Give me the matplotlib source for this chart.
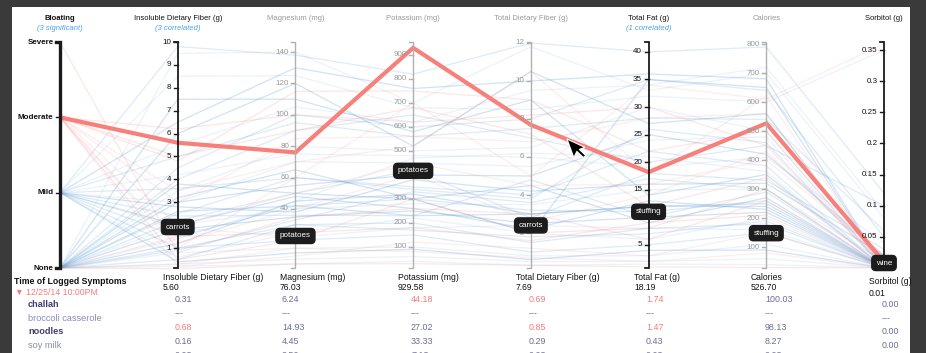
import numpy as np
import matplotlib
matplotlib.use("Agg")
import matplotlib.pyplot as plt
from matplotlib.patches import Rectangle, Polygon

plt.rcParams['font.family'] = ['Liberation Sans', 'DejaVu Sans']

W, H = 926, 353

# ---- data ----
dims = ["Bloating", "Insoluble Dietary Fiber (g)", "Magnesium (mg)", "Potassium (mg)",
        "Total Dietary Fiber (g)", "Total Fat (g)", "Calories", "Sorbitol (g)"]
notes = ["(3 significant)", "(3 correlated)", "", "", "", "(1 correlated)", "", ""]
bloat_levels = ["None", "Mild", "Moderate", "Severe"]
lo = [0, 0.13, 2.4, 12, 0.16, 0.8, 28, 0.0]
hi = [3, 10.0, 146.4, 954, 12.05, 41.8, 807, 0.363]
ticks = [
    [0, 1, 2, 3],
    [1, 2, 3, 4, 5, 6, 7, 8, 9, 10],
    [20, 40, 60, 80, 100, 120, 140],
    [100, 200, 300, 400, 500, 600, 700, 800, 900],
    [2, 4, 6, 8, 10, 12],
    [5, 10, 15, 20, 25, 30, 35, 40],
    [100, 200, 300, 400, 500, 600, 700, 800],
    [0, 0.05, 0.1, 0.15, 0.2, 0.25, 0.3, 0.35],
]
tick_fmt = [None, "{:g}", "{:g}", "{:g}", "{:g}", "{:g}", "{:g}", "{:g}"]
dark_axis = [True, True, False, False, False, True, False, True]

# background foods: bloating, insoluble, Mg, K, fiber, fat, calories, sorbitol
blue_lines = [
    [0, 0.3, 8, 60, 0.5, 2, 60, 0.0],
    [0, 0.5, 30, 200, 1.5, 8, 180, 0.0],
    [0, 1.2, 45, 320, 3.0, 12, 250, 0.0],
    [0, 2.0, 40, 280, 3.5, 15, 300, 0.01],
    [0, 2.5, 60, 350, 4.0, 22, 380, 0.0],
    [0, 3.0, 55, 400, 5.0, 25, 420, 0.02],
    [0, 3.5, 80, 500, 6.5, 30, 500, 0.0],
    [0, 4.5, 100, 600, 8.0, 35, 640, 0.05],
    [0, 6.0, 120, 520, 10.5, 27, 560, 0.0],
    [0, 9.5, 140, 700, 11.8, 33, 700, 0.08],
    [0, 1.0, 20, 150, 1.0, 5, 150, 0.0],
    [0, 1.8, 35, 250, 2.5, 10, 220, 0.0],
    [0, 0.8, 15, 100, 0.8, 3, 110, 0.0],
    [0, 2.2, 50, 420, 2.8, 18, 330, 0.03],
    [0, 3.2, 65, 300, 4.5, 9, 270, 0.0],
    [0, 0.2, 5, 40, 0.3, 1.5, 40, 0.0],
    [0, 4.0, 90, 650, 7.0, 20, 450, 0.1],
    [0, 7.5, 110, 580, 9.0, 14, 350, 0.0],
    [1, 0.6, 25, 220, 2.0, 6, 200, 0.0],
    [1, 1.5, 42, 300, 3.2, 11, 260, 0.0],
    [1, 2.8, 38, 380, 4.2, 16, 320, 0.02],
    [1, 3.0, 70, 450, 5.5, 24, 480, 0.0],
    [1, 5.0, 95, 560, 7.5, 28, 540, 0.06],
    [1, 6.5, 130, 760, 10.0, 36, 680, 0.0],
    [1, 8.5, 125, 680, 8.5, 32, 600, 0.35],
    [1, 1.0, 30, 170, 1.8, 7, 190, 0.0],
    [1, 2.0, 48, 260, 2.2, 13, 230, 0.0],
    [1, 4.2, 75, 480, 6.0, 19, 410, 0.04],
    [1, 3.6, 60, 340, 3.8, 26, 460, 0.0],
    [1, 0.4, 12, 90, 0.6, 4, 90, 0.0],
    [1, 5.5, 105, 620, 9.5, 34, 720, 0.09],
    [1, 2.4, 36, 230, 4.8, 10, 290, 0.0],
    [0, 3.8, 50, 300, 2.0, 35, 650, 0.0],
    [0, 1.4, 45, 470, 6.2, 21, 360, 0.0],
    [1, 9.8, 138, 820, 12.0, 40, 790, 0.12],
    [0, 2.6, 42, 230, 3.0, 12, 240, 0.0],
    [1, 1.9, 22, 180, 2.4, 8, 160, 0.0],
    [0, 0.9, 33, 330, 3.6, 17, 300, 0.0],
]
red_lines = [
    [2, 1.0, 60, 700, 5.0, 34, 610, 0.36],
    [2, 4.8, 115, 750, 9.0, 22, 500, 0.0],
    [2, 3.0, 85, 560, 6.8, 28, 560, 0.0],
    [2, 0.5, 20, 300, 2.0, 8, 300, 0.0],
    [2, 2.0, 50, 450, 4.5, 16, 400, 0.02],
    [2, 6.2, 100, 620, 8.2, 30, 450, 0.0],
    [2, 0.2, 10, 120, 1.2, 3, 150, 0.0],
    [2, 5.0, 90, 680, 7.2, 12, 340, 0.0],
    [0, 0.3, 15, 80, 0.7, 2, 80, 0.0],
    [0, 1.5, 25, 180, 1.6, 9, 210, 0.0],
    [2, 3.5, 70, 520, 10.5, 18, 620, 0.0],
    [3, 0.8, 35, 260, 3.0, 6, 260, 0.0],
    [2, 1.2, 40, 400, 2.6, 14, 430, 0.01],
    [0, 0.1, 5, 30, 0.3, 1, 30, 0.0],
]
highlight = [2, 5.60, 76.03, 929.58, 7.69, 18.19, 526.70, 0.01]

# food tags shown on the axes (axis index, value, name)
tag_axis = [1, 2, 3, 4, 5, 6, 7]
tag_value = [1.92, 22.8, 417, 2.4, 11.0, 148, 0.008]
tag_name = ["carrots", "potatoes", "potatoes", "carrots", "stuffing", "stuffing", "wine"]

# table below
symptom_time = "12/25/14 10:00PM"
meal_totals = ["5.60", "76.03", "929.58", "7.69", "18.19", "526.70", "0.01"]
foods = ["challah", "broccoli casserole", "noodles", "soy milk"]
food_bold = [True, False, True, False]
food_values = [
    ["0.31", "6.24", "44.18", "0.69", "1.74", "100.03", "0.00"],
    ["---", "---", "---", "---", "---", "---", "---"],
    ["0.68", "14.93", "27.02", "0.85", "1.47", "98.13", "0.00"],
    ["0.16", "4.45", "33.33", "0.29", "0.43", "8.27", "0.00"],
    ["0.03", "2.50", "7.13", "0.03", "0.03", "0.03", ""],
]
food_flag = [
    [0, 0, 1, 1, 1, 0, 0],
    [0, 0, 0, 0, 0, 0, 0],
    [1, 0, 0, 1, 1, 0, 0],
    [0, 0, 0, 0, 0, 0, 0],
    [0, 0, 0, 0, 0, 0, 0],
]


def norm(row):
    return [(v - a) / (b - a) for v, a, b in zip(row, lo, hi)]


# ---- layout ----
X0, DX = 60, (884 - 60) / 7.0
YB, YT = 268, 42
fig = plt.figure(figsize=(W / 100, H / 100), dpi=100, facecolor="#3a3a3a")
fig.patches.append(Rectangle((12 / W, 0), (910 - 12) / W, 346 / H,
                             transform=fig.transFigure, facecolor="white",
                             edgecolor="none", zorder=-5))
ax = fig.add_axes([0, 0, 1, 1], zorder=2)
ax.set_xlim(-X0 / DX, (W - X0) / DX)
ax.set_ylim((YB - H) / (YB - YT), YB / (YB - YT))
ax.axis("off")
ax.patch.set_alpha(0)

xs = np.arange(len(dims))
BLUE = "#5b9bd5"
RED = "#f5918b"

for i, row in enumerate(blue_lines):
    ax.plot(xs, norm(row), color=BLUE, lw=0.9, alpha=0.12 + 0.08 * (i % 3), zorder=1)
for i, row in enumerate(red_lines):
    ax.plot(xs, norm(row), color=RED, lw=0.9, alpha=0.16 + 0.06 * (i % 2), zorder=1)
ax.plot(xs, norm(highlight), color="#f7807b", lw=3.0, solid_joinstyle="miter",
        solid_capstyle="butt", zorder=3)

tl = 4 / DX
for i, name in enumerate(dims):
    c = "#1a1a1a" if dark_axis[i] else "#b0b0b0"
    lw = 2.4 if i == 0 else (1.3 if dark_axis[i] else 1.0)
    ax.plot([i - tl, i, i, i - tl], [1, 1, 0, 0], color=c, lw=lw, zorder=4,
            solid_joinstyle="miter")
    for t in ticks[i]:
        v = (t - lo[i]) / (hi[i] - lo[i])
        ax.plot([i - tl, i], [v, v], color=c, lw=1.0, zorder=4)
        lab = bloat_levels[t] if i == 0 else tick_fmt[i].format(t)
        ax.text(i - 1.6 * tl, v, lab, ha="right", va="center", fontsize=5.8,
                color="#111111" if dark_axis[i] else "#9a9a9a",
                fontweight="bold" if i == 0 else "normal", zorder=4)
    ax.text(i, (YB - 19) / (YB - YT), name, ha="center", va="center", fontsize=5.5,
            color="#111111" if dark_axis[i] else "#9a9a9a",
            fontweight="bold" if i == 0 else "normal")
    if notes[i]:
        ax.text(i, (YB - 28) / (YB - YT), notes[i], ha="center", va="center",
                fontsize=5.5, color="#4aa3e8", style="italic")

for a, v, n in zip(tag_axis, tag_value, tag_name):
    yv = (v - lo[a]) / (hi[a] - lo[a])
    ax.text(a, yv, n, ha="center", va="center", fontsize=5.8, color="white", zorder=6,
            bbox=dict(boxstyle="round,pad=0.5,rounding_size=0.5", fc="#1c1c1c", ec="#1c1c1c"))


# ---- table ----
def fy(y):
    return 1 - y / H


def fx(x):
    return x / W


fig.text(fx(14), fy(281), "Time of Logged Symptoms", fontsize=6.3, fontweight="bold",
         color="#111111", va="center")
fig.text(fx(15), fy(292), "\u25bc " + symptom_time, fontsize=6.3, color="#f47c7c",
         va="center")
col_x = [163, 280, 398, 516, 634, 751, 869]
val_x = [175, 282, 411, 529, 646, 765, 882]
row_y = [300, 314, 327, 341, 356]
for j, name in enumerate(dims[1:]):
    hy, ty = (281, 293) if j == 6 else (277, 288)
    fig.text(fx(col_x[j]), fy(hy), name, fontsize=6.2, color="#111111", va="center")
    fig.text(fx(col_x[j]), fy(ty), meal_totals[j], fontsize=6.2, color="#111111",
             va="center")
for r, vals in enumerate(food_values):
    if r < len(foods):
        fig.text(fx(28), fy(row_y[r] + 4.5), foods[r], fontsize=6.6, va="center",
                 color="#3f3f70" if food_bold[r] else "#8a8ab5",
                 fontweight="bold" if food_bold[r] else "normal")
    for j, s in enumerate(vals):
        yy = row_y[r] + (4.5 if j == 6 else 0)
        fig.text(fx(val_x[j]), fy(yy), s, fontsize=6.4, va="center",
                 color="#f47c7c" if food_flag[r][j] else "#6c6c9c")

# mouse cursor
cur = np.array([[0, 0], [0, 20], [5, 15], [9, 23], [12, 22], [8, 14], [14, 14]], float)
cur = cur @ np.array([[np.cos(-0.35), np.sin(-0.35)], [-np.sin(-0.35), np.cos(-0.35)]])
cur[:, 0] += 567
cur[:, 1] += 139
fig.patches.append(Polygon(np.c_[cur[:, 0] / W, 1 - cur[:, 1] / H], closed=True,
                           transform=fig.transFigure, fc="black", ec="white", lw=0.8,
                           zorder=10))

fig.savefig("out.png", dpi=100, facecolor=fig.get_facecolor())
